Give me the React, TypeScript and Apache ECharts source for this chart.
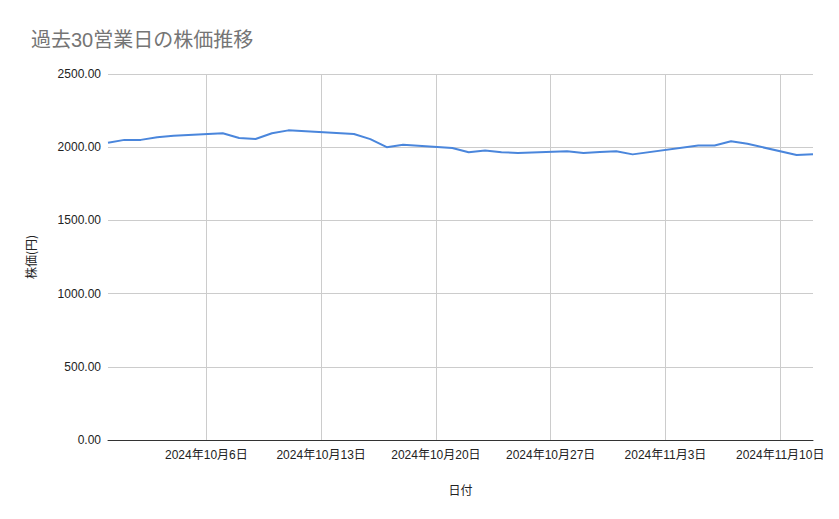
import { useEffect, useRef } from 'react';
import * as echarts from 'echarts';

const dates = [
  '2024-09-30', '2024-10-01', '2024-10-02', '2024-10-03', '2024-10-04',
  '2024-10-07', '2024-10-08', '2024-10-09', '2024-10-10', '2024-10-11',
  '2024-10-15', '2024-10-16', '2024-10-17', '2024-10-18',
  '2024-10-21', '2024-10-22', '2024-10-23', '2024-10-24', '2024-10-25',
  '2024-10-28', '2024-10-29', '2024-10-30', '2024-10-31', '2024-11-01',
  '2024-11-05', '2024-11-06', '2024-11-07', '2024-11-08',
  '2024-11-11', '2024-11-12',
];

const prices = [
  2030, 2050, 2050, 2068, 2078,
  2095, 2063, 2056, 2095, 2115,
  2090, 2055, 2000, 2017,
  1995, 1966, 1977, 1966, 1961,
  1972, 1961, 1968, 1973, 1951,
  2012, 2012, 2040, 2023,
  1947, 1952,
];

const tickDates = ['2024-10-06', '2024-10-13', '2024-10-20', '2024-10-27', '2024-11-03', '2024-11-10'];

const toTime = (s: string) => {
  const [y, m, d] = s.split('-').map(Number);
  return new Date(y, m - 1, d).getTime();
};

const FONT = "'Liberation Sans', 'Noto Sans CJK JP', sans-serif";

function App() {
  const chartRef = useRef(null);

  useEffect(() => {
    document.body.style.margin = '0';
    const myChart = echarts.init(chartRef.current, null, { renderer: 'svg' });

    const ticks = tickDates.map(toTime);

    const option = {
      animation: false,
      backgroundColor: '#ffffff',
      textStyle: { fontFamily: FONT },
      title: {
        text: '過去30営業日の株価推移',
        left: 26,
        top: 25,
        textStyle: {
          color: '#757575',
          fontSize: 20,
          fontWeight: 'normal',
          fontFamily: FONT,
        },
      },
      grid: {
        left: 108,
        right: 26,
        top: 74,
        bottom: 79,
      },
      xAxis: {
        type: 'value',
        min: toTime('2024-09-30'),
        max: toTime('2024-11-12'),
        name: '日付',
        nameLocation: 'middle',
        nameGap: 45,
        nameTextStyle: { color: '#222', fontSize: 12, fontFamily: FONT },
        axisLine: { show: true, onZero: false, lineStyle: { color: '#333', width: 1 } },
        axisTick: { show: false, customValues: ticks },
        axisLabel: {
          customValues: ticks,
          color: '#222',
          fontSize: 12,
          margin: 9,
          fontFamily: FONT,
          formatter: (v: number) => {
            const d = new Date(v);
            return `${d.getFullYear()}年${d.getMonth() + 1}月${d.getDate()}日`;
          },
        },
        splitLine: { show: true, lineStyle: { color: '#cccccc', width: 1 } },
      },
      yAxis: {
        type: 'value',
        min: 0,
        max: 2500,
        interval: 500,
        name: '株価(円)',
        nameLocation: 'middle',
        nameGap: 72,
        nameTextStyle: { color: '#222', fontSize: 12, fontFamily: "'Noto Sans CJK JP', sans-serif" },
        axisLine: { show: false },
        axisTick: { show: false },
        axisLabel: {
          color: '#222',
          fontSize: 12,
          margin: 7,
          fontFamily: FONT,
          formatter: (v: number) => v.toFixed(2),
        },
        splitLine: { show: true, lineStyle: { color: '#cccccc', width: 1 } },
      },
      series: [
        {
          name: '株価',
          type: 'line',
          data: dates.map((d, i) => [toTime(d), prices[i]]),
          showSymbol: false,
          symbol: 'none',
          lineStyle: { color: '#4a86dc', width: 2 },
        },
      ],
    };

    myChart.setOption(option);

    return () => {
      myChart.dispose();
    };
  }, []);

  return <div ref={chartRef} style={{ width: '839px', height: '519px' }}></div>;
}

export default App;
